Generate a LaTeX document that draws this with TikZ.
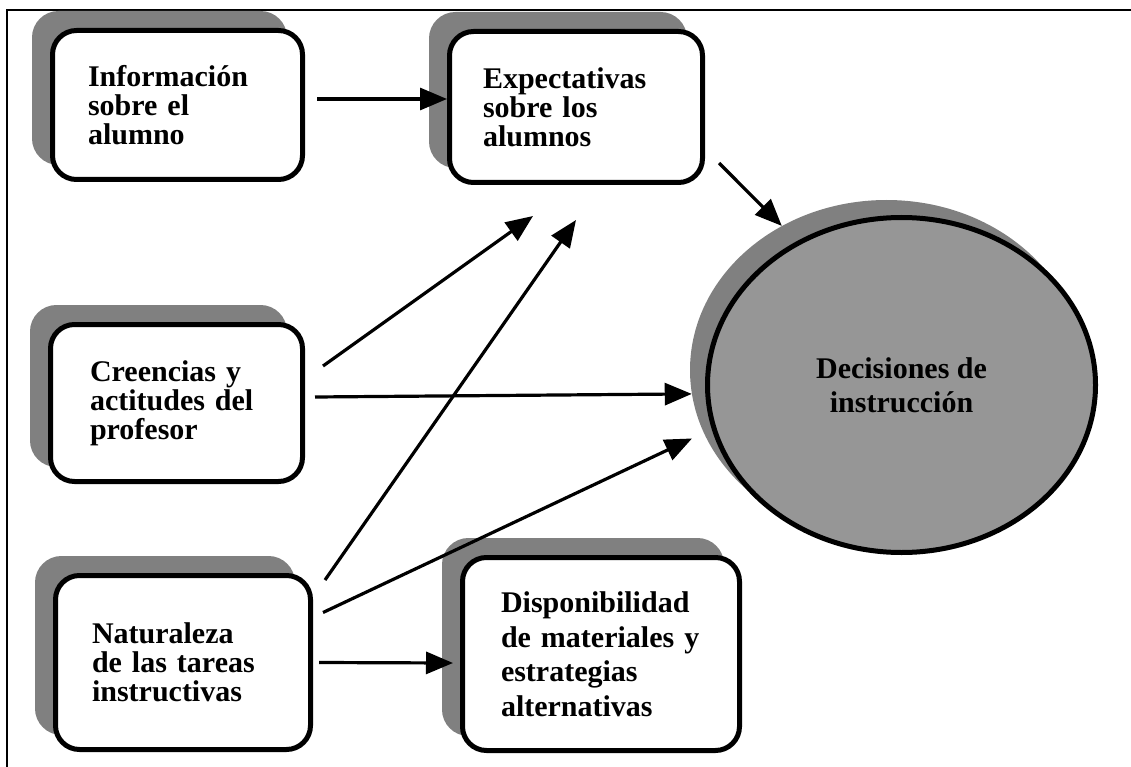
\documentclass[tikz,border=0pt]{standalone}
\usepackage{fontspec}
\setmainfont{Liberation Serif}
\usetikzlibrary{arrows.meta,shapes.geometric,shadows}
\definecolor{shadegray}{RGB}{128,128,128}
\definecolor{decgray}{RGB}{150,150,150}
\tikzset{
  box/.style={draw, line width=5pt, rounded corners=24pt, fill=white, align=left,
    font=\bfseries\fontsize{30}{29}\selectfont,
    general shadow={fill=shadegray, draw=shadegray, shadow xshift=-18pt, shadow yshift=17pt}},
  arr/.style={line width=3.2pt, -{Triangle[length=27pt,width=22pt]}},
}
\begin{document}
\begin{tikzpicture}[x=1pt,y=-1pt]
    \useasboundingbox (0,0) rectangle (1131,767);
    \draw [line width=2pt] (1131,10) -- (7,10) -- (7,767);
    \node [box, minimum width=250, minimum height=149, text width=179pt] (info) at (177.5,105) {Información\\sobre el\\alumno};
    \node [box, minimum width=253, minimum height=151, text width=186pt] (exp) at (576,107) {Expectativas\\sobre los\\alumnos};
    \node [box, minimum width=252, minimum height=157, text width=173pt] (cre) at (176.5,403) {Creencias y\\actitudes del\\profesor};
    \node [box, minimum width=255, minimum height=174, text width=182pt] (nat) at (183,662.5) {Naturaleza\\de las tareas\\instructivas};
    \node [box, minimum width=277, minimum height=193, text width=200pt, font=\bfseries\fontsize{30}{34.5}\selectfont] (dis) at (601,654) {Disponibilidad\\de materiales y\\estrategias\\alternativas};
    \node [ellipse, fill=shadegray, minimum width=393, minimum height=340, inner sep=0pt] (decsh) at (886.5,370) {};
    \node [ellipse, draw, line width=5pt, fill=decgray, minimum width=388, minimum height=335, inner sep=0pt, align=center, font=\bfseries\fontsize{30}{34}\selectfont] (dec) at (901.5,385) {Decisiones de\\instrucción};
    \draw [arr] ([xshift=12pt,yshift=6pt]info.east) -- ([yshift=8pt]exp.west);
    \draw [arr] ([xshift=14pt,yshift=22pt]exp.south east) -- (decsh.126);
    \draw [arr] ([xshift=18pt,yshift=-44pt]cre.north east) -- ([xshift=-43pt,yshift=-31pt]exp.south);
    \draw [arr] ([xshift=10pt,yshift=6pt]cre.east) -- (decsh.187.5);
    \draw [arr] ([xshift=12pt,yshift=-7pt]nat.north east) -- ([yshift=-35pt]exp.south);
    \draw [arr, shorten >=13pt] ([xshift=10pt,yshift=50pt]nat.east) -- (decsh.199);
    \draw [arr] ([xshift=6pt]nat.east) -- ([xshift=-7pt,yshift=-9pt]dis.west);
\end{tikzpicture}
\end{document}
